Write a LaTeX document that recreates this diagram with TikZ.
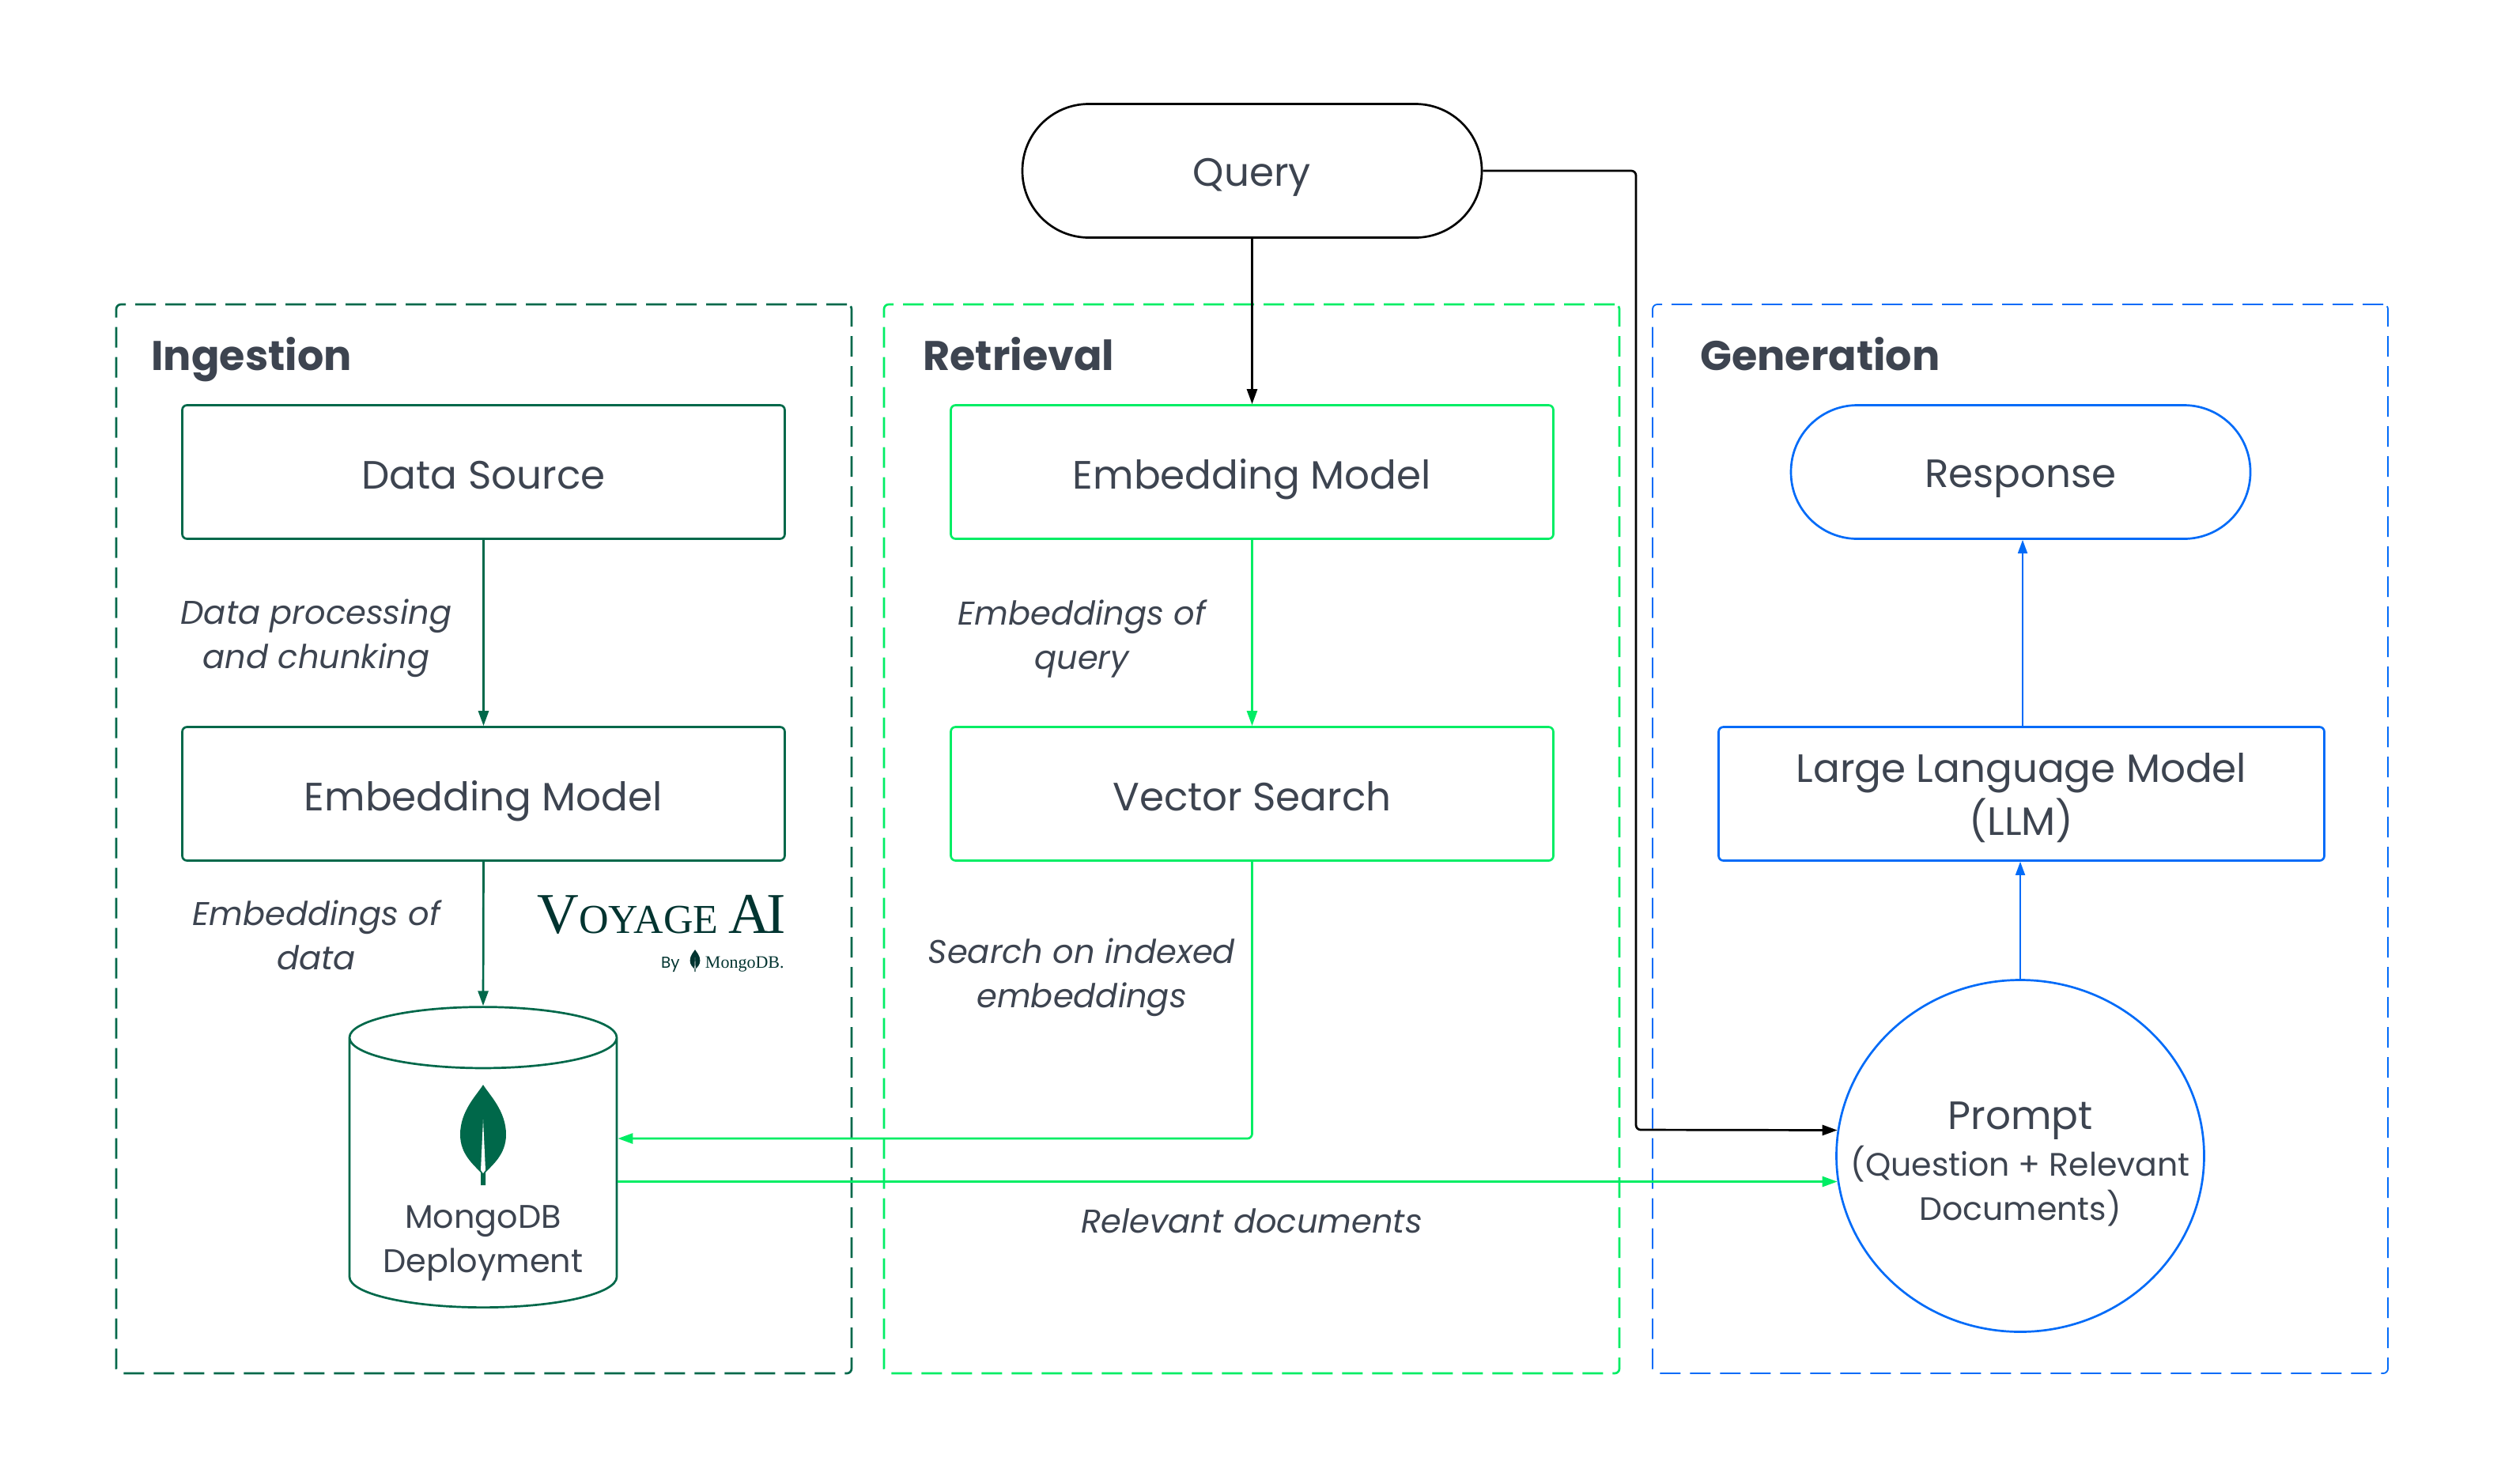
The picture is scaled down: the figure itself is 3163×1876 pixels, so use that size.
\documentclass[tikz,border=0pt]{standalone}
\usepackage{fontspec}
\usetikzlibrary{shapes,shapes.geometric,arrows.meta}
\setmainfont{Poppins}
\newfontfamily\voyagefont{Liberation Serif}
\definecolor{forest}{HTML}{00684A}
\definecolor{spring}{HTML}{00ED64}
\definecolor{azure}{HTML}{016BF8}
\definecolor{evergreen}{HTML}{023430}
\definecolor{slate}{HTML}{3D4450}
\tikzset{
  panel/.style={rectangle, draw, rounded corners=3pt, dash pattern=on 13pt off 6pt,
                line width=1.35pt, minimum width=465pt, minimum height=676pt},
  stagetitle/.style={anchor=base west, inner sep=0pt, text=slate,
                     font=\fontsize{26.2}{30}\selectfont\bfseries},
  labelbox/.style={rectangle, draw, rounded corners=3pt, line width=1.35pt,
                   minimum width=381pt, minimum height=84.5pt, text=slate,
                   align=center, font=\fontsize{25}{33.5}\selectfont},
  oneline/.style={text height=21pt, text depth=0pt},
  pill/.style={labelbox, oneline, text height=19.5pt, rounded corners=42pt, minimum width=290.5pt},
  remark/.style={align=center, text=slate, font=\fontsize{20.8}{28}\selectfont\itshape},
  flow/.style={-{Triangle[length=9.5pt,width=6.5pt]}, line width=1.35pt, rounded corners=3pt},
  thinflow/.style={-{Triangle[length=8.5pt,width=6pt]}, line width=0.9pt},
  leaf/.pic={
    \fill[pic actions] (0,-63) .. controls (8,-50) and (29,-30) .. (29,0)
      .. controls (29,25) and (12,38) .. (3,48) -- (3,64) -- (-3,64) -- (-3,48)
      .. controls (-12,38) and (-29,25) .. (-29,0)
      .. controls (-29,-30) and (-8,-50) .. (0,-63) -- cycle;
    \fill[white] (0,-19) -- (3,45) -- (0,49) -- (-3,45) -- cycle;
  }
}

\begin{document}
\begin{tikzpicture}[x=0.5pt, y=-0.5pt]
\useasboundingbox (0,0) rectangle (3163,1876);

% stage frames
\node(ingestion) [panel, draw=forest] at (612,1061) {};
\node(retrieval) [panel, draw=spring, right of=ingestion, node distance=485.5pt] {};
\node(generation) [panel, draw=azure, line width=0.9pt, right of=retrieval, node distance=486pt] {};

\node(ingtitle) [stagetitle] at (191,468) {Ingestion};
\node(rettitle) [stagetitle] at (1167,468) {Retrieval};
\node(gentitle) [stagetitle] at (2150,468) {Generation};

% boxes
\node(query) [pill, draw=black] at (1583.5,216) {Query};

\node(datasource) [labelbox, oneline, draw=forest] at (611.5,597) {Data Source};
\node(ingmodel) [labelbox, oneline, draw=forest, below of=datasource, node distance=203.5pt]
  {Embedding Model};
\node(retmodel) [labelbox, oneline, draw=spring, right of=datasource, node distance=486pt]
  {Embedding Model};
\node(vector) [labelbox, oneline, draw=spring, below of=retmodel, node distance=203.5pt]
  {Vector Search};
\node(response) [pill, draw=azure, right of=retmodel, node distance=486pt]
  {Response};
\node(llm) [labelbox, draw=azure, minimum width=383pt, xshift=0.5pt,
            below of=response, node distance=203.5pt]
  {\rule{0pt}{23.5pt}Large Language Model\\(LLM)};

\node(deployment) [cylinder, shape border rotate=90, draw=forest, line width=1.35pt,
                   aspect=5.8, minimum width=169pt, minimum height=190pt] at (611,1489) {};
\pic[forest] at (611,1435) {leaf};
\node(dblabel) [remark, font=\fontsize{20.7}{28}\selectfont] at (611,1572) {MongoDB\\Deployment};

\node(prompt) [ellipse, draw=azure, line width=1.35pt, minimum width=232.5pt,
               minimum height=222.5pt, inner sep=0pt] at (2555,1462) {};
\node(promptlabel) [align=center, text=slate] at (2555,1472)
  {\fontsize{25}{33}\selectfont Prompt\\[3pt]
   \fontsize{20.5}{29}\selectfont (Question + Relevant\\[4pt]
   \fontsize{20.5}{29}\selectfont Documents)};

% remarks
\node(chunking) [remark] at (400,807) {Data processing\\and chunking};
\node(ingvectors) [remark] at (400,1183) {Embeddings of\\data};
\node(retvectors) [remark] at (1368,808) {Embeddings of\\query};
\node(indexed) [remark] at (1368,1236) {Search on indexed\\embeddings};
\node(relevant) [remark] at (1583,1544) {Relevant documents};

% logo
\node(voyage) [anchor=east, inner sep=0pt, text=evergreen] at (994,1157)
  {\voyagefont\fontsize{36.5}{36}\selectfont V\fontsize{26}{26}\selectfont OYAGE \fontsize{36.5}{36}\selectfont A\kern-2.5pt I};
\node(mongoword) [anchor=east, inner sep=0pt, text=evergreen] at (992,1220)
  {\voyagefont\fontsize{11}{11}\selectfont MongoDB.};
\node(byword) [anchor=east, inner sep=0pt, text=evergreen] at (860,1220)
  {\fontsize{10}{10}\selectfont By};
\pic[evergreen, scale=0.22] at (879,1215) {leaf};

% connectors
\coordinate(querybend) at (2069,1429);
\draw[flow, black] (query.south) -- (retmodel.north);
\draw[flow, black] (query.east) -| (querybend) -- (prompt.172);
\draw[flow, forest] (datasource.south) -- (ingmodel.north);
\draw[flow, forest] (ingmodel.south) -- (deployment.top);
\draw[flow, spring] (retmodel.south) -- (vector.north);
\draw[flow, spring] (vector.south) |- ([yshift=24.5pt]deployment.east);
\draw[flow, spring] (prompt.188 -| deployment.east) -- (prompt.188);
\draw[thinflow, azure] (prompt.north) -- (prompt.north |- llm.south);
\draw[thinflow, azure] ([xshift=1.25pt]response.south |- llm.north) -- ([xshift=1.25pt]response.south);

\end{tikzpicture}
\end{document}
